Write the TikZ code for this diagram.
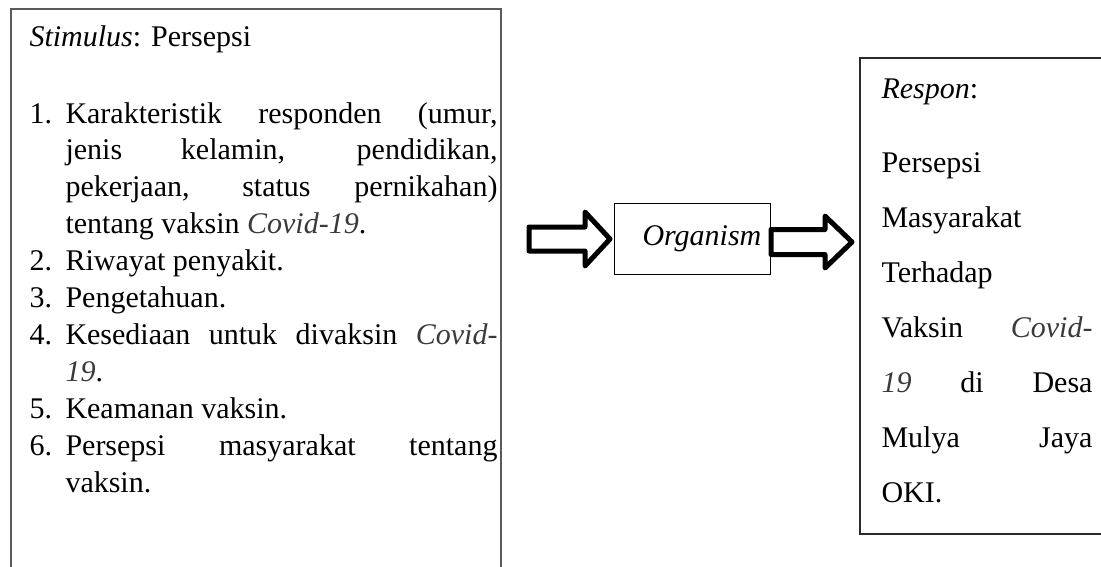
\documentclass[tikz,border=0pt]{standalone}
\usepackage{fontspec}
\setmainfont{Liberation Serif}
\usetikzlibrary{calc}

\definecolor{boxgray}{HTML}{5A5A5A}
\definecolor{respgray}{HTML}{2A2A2A}
\definecolor{covidgray}{HTML}{3A3A3A}
\newcommand{\covid}[1]{\textcolor{covidgray}{\textit{#1}}}

\begin{document}
\begin{tikzpicture}[
    x=0.4pt, y=-0.4pt,
    % Styles
    outerbox/.style={
        rectangle,
        draw=#1,
        line width=0.8pt,
        anchor=north west,
        inner sep=0pt
    },
    outerbox/.default=boxgray,
    midbox/.style={
        rectangle,
        draw=black,
        line width=0.4pt,
        anchor=north west,
        minimum width=62pt,
        minimum height=28.4pt,
        text width=40pt,
        inner xsep=11.2pt,
        inner ysep=0pt,
        align=left,
        font={\fontsize{12pt}{14pt}\selectfont}
    },
    txt/.style={
        anchor=base west,
        inner sep=0pt,
        font={\fontsize{12pt}{14.76pt}\selectfont}
    },
    listitem/.style={
        txt,
        text width=172.8pt,
        align=justify
    },
    resptext/.style={
        txt,
        text width=84.4pt,
        align=justify,
        font={\fontsize{12pt}{22pt}\selectfont}
    },
    blockarrow/.style={
        draw=black,
        fill=white,
        line width=2pt,
        line join=round
    }
]

\useasboundingbox (0,0) rectangle (1101,567);
\clip (0,0) rectangle (1101,567);

% Boxes
\node[outerbox, minimum width=196pt, minimum height=245pt] (stimulus) at (10,7.5) {};
\node[midbox] (organism) at (614,203) {\textit{Organism}};
\node[outerbox=respgray, line width=0.6pt, minimum width=116.4pt, minimum height=190.4pt] (respon) at (859,57) {};

% Stimulus text
\node[txt] (stimtitle) at (29,46.7) {\textit{Stimulus}: Persepsi};
\foreach \n/\y in {1/123, 2/270.6, 3/307.5, 4/344.4, 5/418.2, 6/455.1}
    \node[txt] (num\n) at (29,\y) {\n.};
\node[listitem] (item1) at (65,123) {Karakteristik responden (umur,\linebreak jenis kelamin, pendidikan,\linebreak pekerjaan, status pernikahan)\linebreak tentang vaksin \covid{Covid-19}.};
\node[listitem] (item2) at (65,270.6) {Riwayat penyakit.};
\node[listitem] (item3) at (65,307.5) {Pengetahuan.};
\node[listitem] (item4) at (65,344.4) {Kesediaan untuk divaksin \covid{Covid-}\linebreak\covid{19}.};
\node[listitem] (item5) at (65,418.2) {Keamanan vaksin.};
\node[listitem] (item6) at (65,455.1) {Persepsi masyarakat tentang\linebreak vaksin.};

% Respon text
\node[txt] (resptitle) at (881,98) {\textit{Respon}:};
\node[resptext] (respbody) at (881,172) {Persepsi\linebreak Masyarakat\linebreak Terhadap\linebreak Vaksin \covid{Covid-}\linebreak\covid{19} di Desa\linebreak Mulya Jaya\linebreak OKI.};

% Block arrows
\coordinate (arrowAtail) at ($(stimulus.east |- organism.west)+(27,0)$);
\coordinate (arrowBtail) at ($(organism.east)+(0,3)$);
\draw[blockarrow] (arrowAtail) ++(0,-12) -- ++(56,0) -- ++(0,-15) -- ++(25,27) -- ++(-25,27) -- ++(0,-15) -- ++(-56,0) -- cycle;
\draw[blockarrow] (arrowBtail) ++(0,-12.5) -- ++(54,0) -- ++(0,-13.5) -- ++(27,26) -- ++(-27,26) -- ++(0,-13.5) -- ++(-54,0) -- cycle;

\end{tikzpicture}
\end{document}
